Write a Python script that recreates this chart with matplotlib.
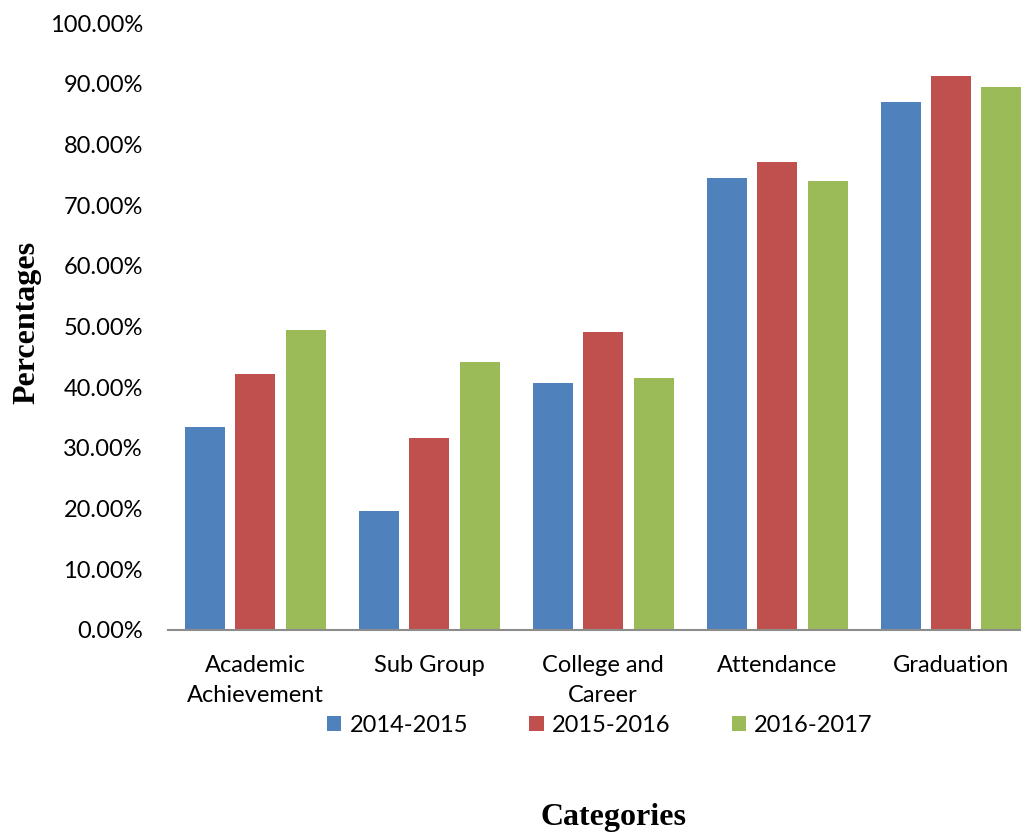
import numpy as np
import matplotlib.pyplot as plt
from matplotlib.ticker import FuncFormatter

categorias = ["Academic\nAchievement", "Sub Group", "College and\nCareer", "Attendance", "Graduation"]
anii = ["2014-2015", "2015-2016", "2016-2017"]
v_2014 = [0.334, 0.196, 0.407, 0.745, 0.870]
v_2015 = [0.422, 0.316, 0.491, 0.771, 0.913]
v_2016 = [0.494, 0.442, 0.415, 0.740, 0.895]
culori = ["#4F81BD", "#C0504D", "#9BBB59"]

plt.rcParams["font.family"] = ["Lato", "DejaVu Sans"]

W, H = 1021, 832
fig = plt.figure(figsize=(W / 100, H / 100), dpi=100)
ax = fig.add_axes([168 / W, 1 - 630 / H, (1021 - 168) / W, (630 - 23) / H])

x = np.arange(len(categorias))
lat = 40 / 174
pas = 50.5 / 174
for k, (vals, an) in enumerate(zip([v_2014, v_2015, v_2016], anii)):
    ax.bar(x + (k - 1) * pas, vals, width=lat, color=culori[k], label=an, zorder=2)

ax.set_ylim(0, 1)
ax.set_xlim(-0.5, 4.5 - 17 / 174)
ax.set_yticks(np.arange(0, 1.01, 0.1))
ax.yaxis.set_major_formatter(FuncFormatter(lambda v, p: f"{v * 100:.2f}%"))
ax.set_xticks(x)
ax.set_xticklabels(categorias, fontsize=17, linespacing=1.55)
ax.tick_params(axis="y", length=0, labelsize=17, pad=18)
ax.tick_params(axis="x", length=0, pad=18)
for s in ["top", "right", "left"]:
    ax.spines[s].set_visible(False)
ax.spines["bottom"].set_color("#8c8c8c")
ax.spines["bottom"].set_linewidth(1.5)

fig.text(27 / W, 1 - 322 / H, "Percentages", rotation=90, ha="center", va="center",
         fontsize=23, fontweight="bold", family="Liberation Serif")
fig.text(613 / W, 1 - 818 / H, "Categories", ha="center", va="center",
         fontsize=23, fontweight="bold", family="Liberation Serif")

fig.legend(loc="center", bbox_to_anchor=(600 / W, 1 - 725 / H), ncol=3, frameon=False,
           fontsize=17, handlelength=0.6, handleheight=0.6, handletextpad=0.35,
           columnspacing=2.6)

fig.savefig("out.png", dpi=100)
